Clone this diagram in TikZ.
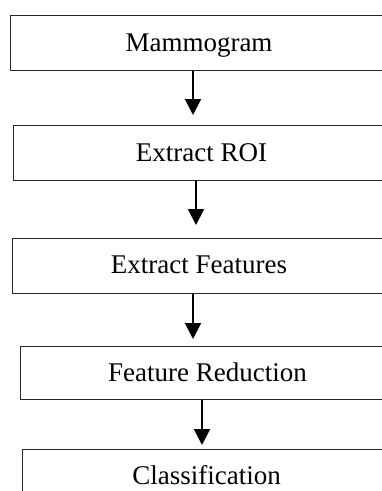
\documentclass[tikz,border=0pt]{standalone}
\usepackage{fontspec}
\setmainfont{Liberation Serif}
\usetikzlibrary{arrows.meta}
\begin{document}
\begin{tikzpicture}[x=1pt,y=-1pt,
  stepbox/.style={draw=black!85,line width=1pt,anchor=north west,minimum width=385pt,inner sep=0pt},
  steptext/.style={anchor=base,inner sep=0pt,font=\fontsize{27}{32}\selectfont},
  flow/.style={line width=2pt,-{Triangle[width=16pt,length=16pt]}}]
  \useasboundingbox (0,0) rectangle (382,491);
  \clip (0,0) rectangle (382,491);
  % process boxes (they run past the right edge)
  \node[stepbox,minimum height=55pt] (b1) at (10,15) {};
  \node[stepbox,minimum height=55pt] (b2) at (13,125) {};
  \node[stepbox,minimum height=55pt] (b3) at (11.5,238) {};
  \node[stepbox,minimum height=53pt] (b4) at (19.5,346) {};
  \node[stepbox,minimum height=60pt] (b5) at (22,449) {};
  % labels
  \node[steptext] (t1) at (199,51)    {Mammogram};
  \node[steptext] (t2) at (201.5,161) {Extract ROI};
  \node[steptext] (t3) at (199,273)   {Extract Features};
  \node[steptext] (t4) at (207.5,381.5) {Feature Reduction};
  \node[steptext] (t5) at (206.5,484) {Classification};
  % arrow tips stop short of the next box
  \coordinate (a1) at (193,115);
  \coordinate (a2) at (196,225);
  \coordinate (a3) at (193,339);
  \coordinate (a4) at (202,445);
  \draw[flow] (a1 |- b1.south) -- (a1);
  \draw[flow] (a2 |- b2.south) -- (a2);
  \draw[flow] (a3 |- b3.south) -- (a3);
  \draw[flow] (a4 |- b4.south) -- (a4);
\end{tikzpicture}
\end{document}
